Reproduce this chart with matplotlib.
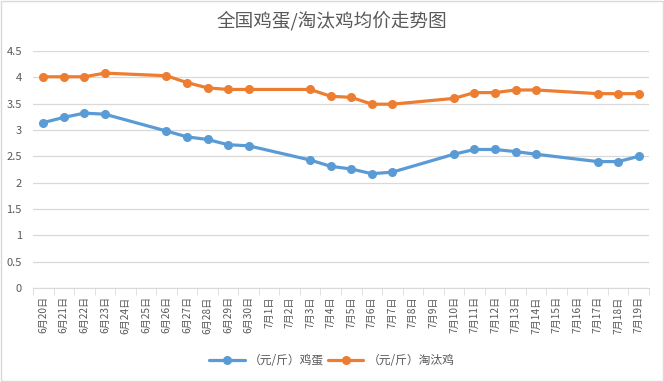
# -*- coding:utf8 -*-
# 全国鸡蛋/淘汰鸡均价走势图 折线图
import numpy as np
import matplotlib
matplotlib.use("Agg")
from matplotlib import pyplot as plt
from matplotlib.patches import Rectangle

plt.rcParams['font.family'] = ['Noto Sans CJK SC', 'DejaVu Sans']

# 日期（横轴）
dates = ["6月20日", "6月21日", "6月22日", "6月23日", "6月24日", "6月25日", "6月26日",
         "6月27日", "6月28日", "6月29日", "6月30日", "7月1日", "7月2日", "7月3日",
         "7月4日", "7月5日", "7月6日", "7月7日", "7月8日", "7月9日", "7月10日",
         "7月11日", "7月12日", "7月13日", "7月14日", "7月15日", "7月16日", "7月17日",
         "7月18日", "7月19日"]
nan = np.nan
# 鸡蛋均价（元/斤），周末无数据
egg = [3.14, 3.24, 3.32, 3.30, nan, nan, 2.98,
       2.87, 2.82, 2.72, 2.70, nan, nan, 2.43,
       2.31, 2.26, 2.17, 2.20, nan, nan, 2.54,
       2.63, 2.63, 2.59, 2.54, nan, nan, 2.40,
       2.40, 2.50]
# 淘汰鸡均价（元/斤）
hen = [4.01, 4.01, 4.01, 4.08, nan, nan, 4.03,
       3.90, 3.80, 3.77, 3.77, nan, nan, 3.77,
       3.64, 3.62, 3.49, 3.49, nan, nan, 3.60,
       3.71, 3.71, 3.76, 3.76, nan, nan, 3.69,
       3.69, 3.69]

fig = plt.figure(figsize=(6.64, 3.82), dpi=100)
ax = fig.add_axes([33/664, 1-288/382, 616/664, 237/382])

x = np.arange(len(dates))
gray = "#595959"
for vals, color, name in [(egg, "#5b9bd5", "（元/斤）鸡蛋"), (hen, "#ed7d31", "（元/斤）淘汰鸡")]:
    v = np.array(vals, dtype=float)
    m = ~np.isnan(v)
    ax.plot(x[m], v[m], color=color, lw=2.3, marker="o", markersize=5.5,
            solid_capstyle="round", label=name, zorder=3)

ax.set_xlim(-0.5, len(dates) - 0.5)
ax.set_ylim(0, 4.5)
ax.set_yticks(np.arange(0, 4.51, 0.5))
ax.set_yticklabels(["0", "0.5", "1", "1.5", "2", "2.5", "3", "3.5", "4", "4.5"])
ax.grid(axis="y", color="#d9d9d9", lw=0.9)
ax.set_axisbelow(True)

ax.set_xticks(x)
ax.set_xticklabels(dates, rotation=90, fontsize=7.3, color=gray)
ax.set_xticks(np.arange(-0.5, len(dates)), minor=True)
ax.tick_params(axis="x", which="major", length=0, pad=6)
ax.tick_params(axis="x", which="minor", length=5, color="#d9d9d9", direction="out")
ax.tick_params(axis="y", length=0, labelsize=8, labelcolor=gray, pad=8)

for s in ["top", "right", "left"]:
    ax.spines[s].set_visible(False)
ax.spines["bottom"].set_color("#d9d9d9")

fig.text(0.5, 1 - 21/382, "全国鸡蛋/淘汰鸡均价走势图", ha="center", va="center",
         fontsize=13.4, color=gray)

fig.legend(loc="center", bbox_to_anchor=(0.5, 1 - 361/382), ncol=2, frameon=False,
           fontsize=8.5, labelcolor=gray, handlelength=3, columnspacing=0.3, handletextpad=0.4)

fig.patches.append(Rectangle((0.001, 0.002), 0.997, 0.996, transform=fig.transFigure,
                             fill=False, ec="#d9d9d9", lw=1))

plt.savefig("out.png", dpi=100)
